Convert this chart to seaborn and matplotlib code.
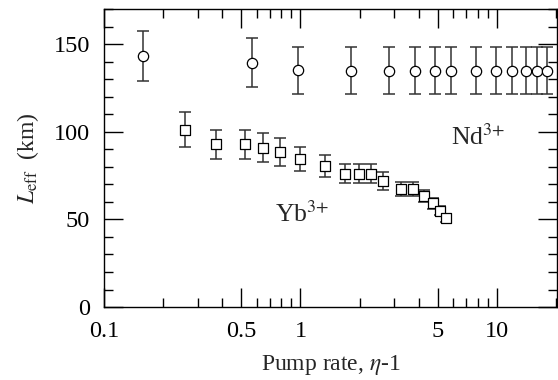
import numpy as np
import pandas as pd
import seaborn as sns
import matplotlib.pyplot as plt
from matplotlib.ticker import FixedLocator, NullFormatter

# Nd3+ (circles)
nd_x = [0.158, 0.564, 0.97, 1.80, 2.81, 3.82, 4.83, 5.84, 7.82, 9.85, 11.9, 14.0, 16.0, 18.0]
nd_y = [143.4, 139.4, 135.0, 134.8, 134.8, 134.8, 134.8, 134.8, 134.8, 134.8, 134.8, 134.8, 134.8, 134.8]
nd_err = [14.2, 14.0, 13.6, 13.5, 13.5, 13.5, 13.5, 13.5, 13.5, 13.5, 13.5, 13.5, 13.5, 13.5]

# Yb3+ (squares)
yb_x = [0.258, 0.372, 0.524, 0.647, 0.785, 0.99, 1.34, 1.68, 1.98, 2.29, 2.63, 3.24, 3.76, 4.27, 4.71, 5.15, 5.48]
yb_y = [101.3, 92.8, 92.8, 91.0, 88.4, 84.4, 80.4, 76.0, 76.0, 76.0, 71.8, 67.6, 67.6, 63.3, 59.1, 55.0, 50.6]
yb_err = [10.1, 8.5, 8.5, 8.2, 7.8, 7.0, 6.2, 5.5, 5.5, 5.5, 5.1, 4.0, 4.0, 3.4, 3.0, 2.5, 2.0]

sns.set_style('ticks')
plt.rcParams['font.family'] = ['Liberation Serif', 'DejaVu Serif']
plt.rcParams['mathtext.fontset'] = 'stix'

fig, ax = plt.subplots(figsize=(5.58, 3.80), dpi=100)
fig.subplots_adjust(left=0.1864, right=0.998, bottom=0.192, top=0.976)

nd = pd.DataFrame({'x': nd_x, 'y': nd_y})
yb = pd.DataFrame({'x': yb_x, 'y': yb_y})

ax.errorbar(nd_x, nd_y, yerr=nd_err, fmt='none', ecolor='#333333',
            elinewidth=1.1, capsize=4.5, capthick=1.1, zorder=2)
ax.errorbar(yb_x, yb_y, yerr=yb_err, fmt='none', ecolor='#333333',
            elinewidth=1.1, capsize=4.5, capthick=1.1, zorder=2)
sns.scatterplot(data=nd, x='x', y='y', marker='o', s=55, facecolor='white',
                edgecolor='black', linewidth=0.9, ax=ax, zorder=3)
sns.scatterplot(data=yb, x='x', y='y', marker='s', s=55, facecolor='white',
                edgecolor='black', linewidth=0.9, ax=ax, zorder=3)

ax.set_xscale('log')
ax.set_xlim(0.1, 20.2)
ax.set_ylim(0, 170)

ax.xaxis.set_major_locator(FixedLocator([0.1, 0.5, 1, 5, 10]))
ax.set_xticklabels(['0.1', '0.5', '1', '5', '10'])
ax.xaxis.set_minor_locator(FixedLocator([0.2, 0.3, 0.4, 0.6, 0.7, 0.8, 0.9,
                                         2, 3, 4, 6, 7, 8, 9, 20]))
ax.xaxis.set_minor_formatter(NullFormatter())
ax.yaxis.set_major_locator(FixedLocator([0, 50, 100, 150]))
ax.yaxis.set_minor_locator(FixedLocator(np.arange(0, 171, 10)))

ax.tick_params(which='both', direction='in', top=True, right=True,
               labelsize=17.5, colors='black', width=1.0)
ax.tick_params(which='major', length=13.5, pad=10)
ax.tick_params(which='minor', length=6.8)
for s in ax.spines.values():
    s.set_linewidth(1.0)
    s.set_color('black')

ax.set_xlabel(r'Pump rate, $\eta$-1', fontsize=17, labelpad=8)
ax.set_ylabel(r'$L_{\mathrm{eff}}$  (km)', fontsize=17, labelpad=9)

ax.text(5.82, 92.4, r'Nd$^{3{+}}$', fontsize=18.5)
ax.text(0.745, 48.5, r'Yb$^{3{+}}$', fontsize=18.5)

fig.savefig('out.png', dpi=100)
